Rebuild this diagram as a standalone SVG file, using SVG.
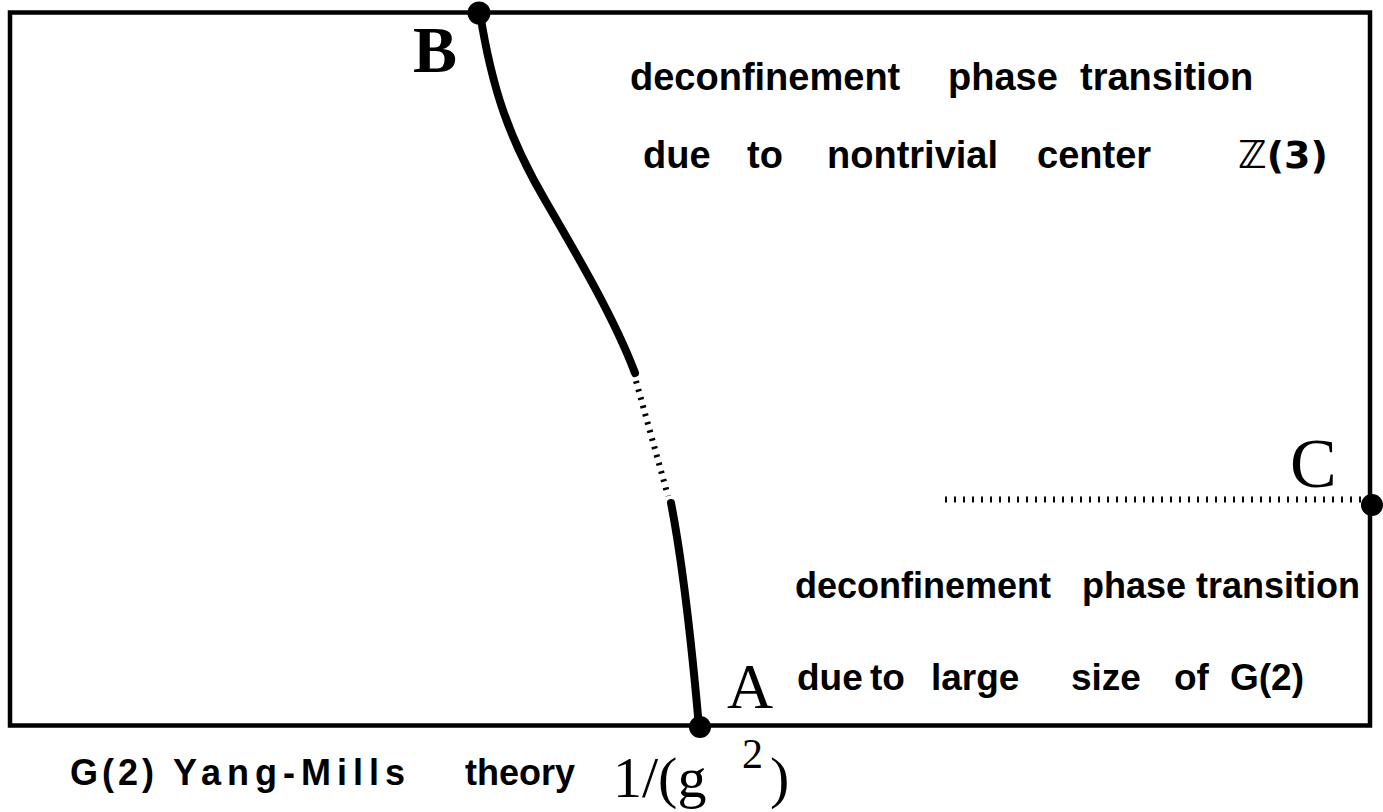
<svg xmlns="http://www.w3.org/2000/svg" width="1383" height="812" viewBox="0 0 1383 812">
  <style>
    .hand { font-family: "Liberation Sans", Arial, sans-serif; font-weight: bold; fill: #000; }
    .serif { font-family: "Liberation Serif", "Times New Roman", serif; fill: #000; }
    .solid { fill: none; stroke: #000; stroke-width: 8; stroke-linecap: round; }
    .dot { fill: #000; }
  </style>
  <rect width="1383" height="812" fill="#fff"/>

  <g id="frame">
    <rect x="10" y="12.5" width="1360" height="713" fill="none" stroke="#000" stroke-width="4.5"/>
  </g>

  <g id="connectors">
    <path class="solid" d="M480,13 C492,90 510,140 545,200 S615,320 635,373"/>
    <path d="M636,381 L668,496" fill="none" stroke="#000" stroke-width="6" stroke-dasharray="2.5 6"/>
    <path class="solid" d="M671,503 Q686,580 699,727"/>
    <path d="M945,499.5 L1364,499.5" fill="none" stroke="#000" stroke-width="6" stroke-dasharray="2 7"/>
  </g>

  <g id="node-B">
    <circle class="dot" cx="479" cy="13" r="11.5"/>
    <text class="serif" x="413" y="72" font-size="66" font-weight="bold">B</text>
  </g>
  <g id="node-A">
    <circle class="dot" cx="700" cy="727" r="11"/>
    <text class="serif" x="727" y="708" font-size="64">A</text>
  </g>
  <g id="node-C">
    <circle class="dot" cx="1372" cy="505" r="11"/>
    <text class="serif" x="1290" y="487" font-size="70">C</text>
  </g>

  <g id="label-upper">
    <text class="hand" font-size="38" y="90"><tspan x="630">deconfinement</tspan><tspan x="948">phase</tspan><tspan x="1080">transition</tspan></text>
    <text class="hand" font-size="38" y="168"><tspan x="643">due</tspan><tspan x="747">to</tspan><tspan x="827">nontrivial</tspan><tspan x="1037">center</tspan><tspan x="1238" font-family="DejaVu Sans, sans-serif">ℤ(3)</tspan></text>
  </g>

  <g id="label-lower">
    <text class="hand" font-size="36" y="598"><tspan x="795">deconfinement</tspan><tspan x="1082">phase</tspan><tspan x="1196">transition</tspan></text>
    <text class="hand" font-size="37" y="690"><tspan x="797">due</tspan><tspan x="870">to</tspan><tspan x="931">large</tspan><tspan x="1071">size</tspan><tspan x="1174">of</tspan><tspan x="1230">G(2)</tspan></text>
  </g>

  <g id="axis-label">
    <text class="hand" font-size="36" y="785"><tspan x="70" letter-spacing="4">G(2)</tspan><tspan x="173" letter-spacing="6">Yang-Mills</tspan><tspan x="465">theory</tspan></text>
    <text class="serif" font-size="58" x="613" y="797">1/(g</text>
    <text class="serif" font-size="42" x="742" y="768">2</text>
    <text class="serif" font-size="58" x="770" y="797">)</text>
  </g>
</svg>
